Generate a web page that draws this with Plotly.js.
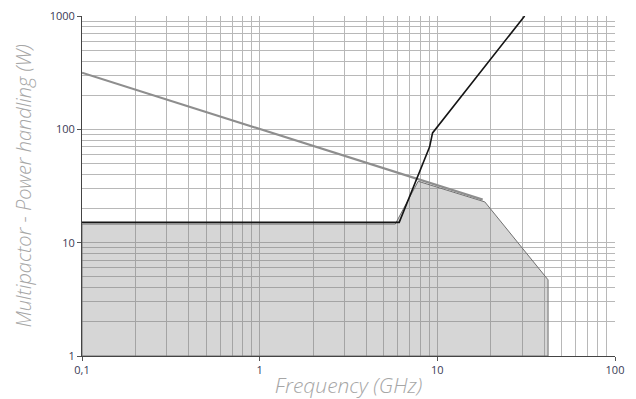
<!DOCTYPE html>
<html>
<head>
<meta charset="utf-8">
<script src="https://cdn.plot.ly/plotly-3.0.1.min.js"></script>
<style>html,body{margin:0;padding:0;background:#fff;}#chart{width:636px;height:399px;}</style>
</head>
<body>
<div id="chart"></div>
<script>
// Power handling limit (grey line)
const limitFreq = [0.1, 18];
const limitPower = [316, 24];

// Multipactor threshold (black line)
const multFreq = [0.1, 6.1, 9.05, 9.4, 31];
const multPower = [15.1, 15.1, 70, 93, 1000];

// Usable region (shaded area)
const areaFreq = [0.1, 0.1, 5.8, 7.8, 18.5, 42, 42, 0.1];
const areaPower = [1, 14.6, 14.6, 34.8, 22.9, 4.7, 1, 1];

// Tick labels
const xTickVals = [0.1, 1, 10, 100];
const xTickText = ['0,1', '1', '10', '100'];
const yTickVals = [1, 10, 100, 1000];
const yTickText = ['1', '10', '100', '1000'];

const traces = [
  {x: areaFreq, y: areaPower, mode: 'lines', fill: 'toself',
   fillcolor: 'rgba(120,120,120,0.30)', line: {color: '#707070', width: 1},
   hoverinfo: 'skip', showlegend: false},
  {x: limitFreq, y: limitPower, mode: 'lines',
   line: {color: '#8e8e8e', width: 2.2}, showlegend: false},
  {x: multFreq, y: multPower, mode: 'lines',
   line: {color: '#151515', width: 1.6}, showlegend: false}
];

const gridColor = '#b8b8b8';
const tickFont = {family: 'Open Sans, sans-serif', size: 11, color: '#3a3a55'};
const xTitleFont = {family: 'Open Sans, sans-serif', size: 21, color: '#a6a6a6', style: 'italic', weight: 300};
const yTitleFont = {family: 'Open Sans, sans-serif', size: 20, color: '#a6a6a6', style: 'italic', weight: 300};

const layout = {
  width: 636, height: 399,
  margin: {l: 82, r: 21, t: 16, b: 43},
  paper_bgcolor: '#ffffff', plot_bgcolor: '#ffffff',
  showlegend: false,
  xaxis: {
    type: 'log', range: [-1, 2],
    tickvals: xTickVals, ticktext: xTickText,
    ticks: 'outside', ticklen: 4, tickcolor: '#555',
    showline: true, linecolor: '#444', linewidth: 1,
    showgrid: true, gridcolor: gridColor, gridwidth: 1,
    minor: {dtick: 'D1', showgrid: true, gridcolor: gridColor, gridwidth: 1},
    zeroline: false, tickfont: tickFont,
    title: {text: 'Frequency (GHz)', font: xTitleFont, standoff: 2}
  },
  yaxis: {
    type: 'log', range: [0, 3],
    tickvals: yTickVals, ticktext: yTickText,
    ticks: 'outside', ticklen: 4, tickcolor: '#555',
    showline: true, linecolor: '#444', linewidth: 1,
    showgrid: true, gridcolor: gridColor, gridwidth: 1,
    minor: {dtick: 'D1', showgrid: true, gridcolor: gridColor, gridwidth: 1},
    zeroline: false, tickfont: tickFont,
    title: {text: 'Multipactor - Power handling (W)', font: yTitleFont, standoff: 12}
  }
};

Plotly.newPlot('chart', traces, layout, {displayModeBar: false, staticPlot: true});
</script>
</body>
</html>
